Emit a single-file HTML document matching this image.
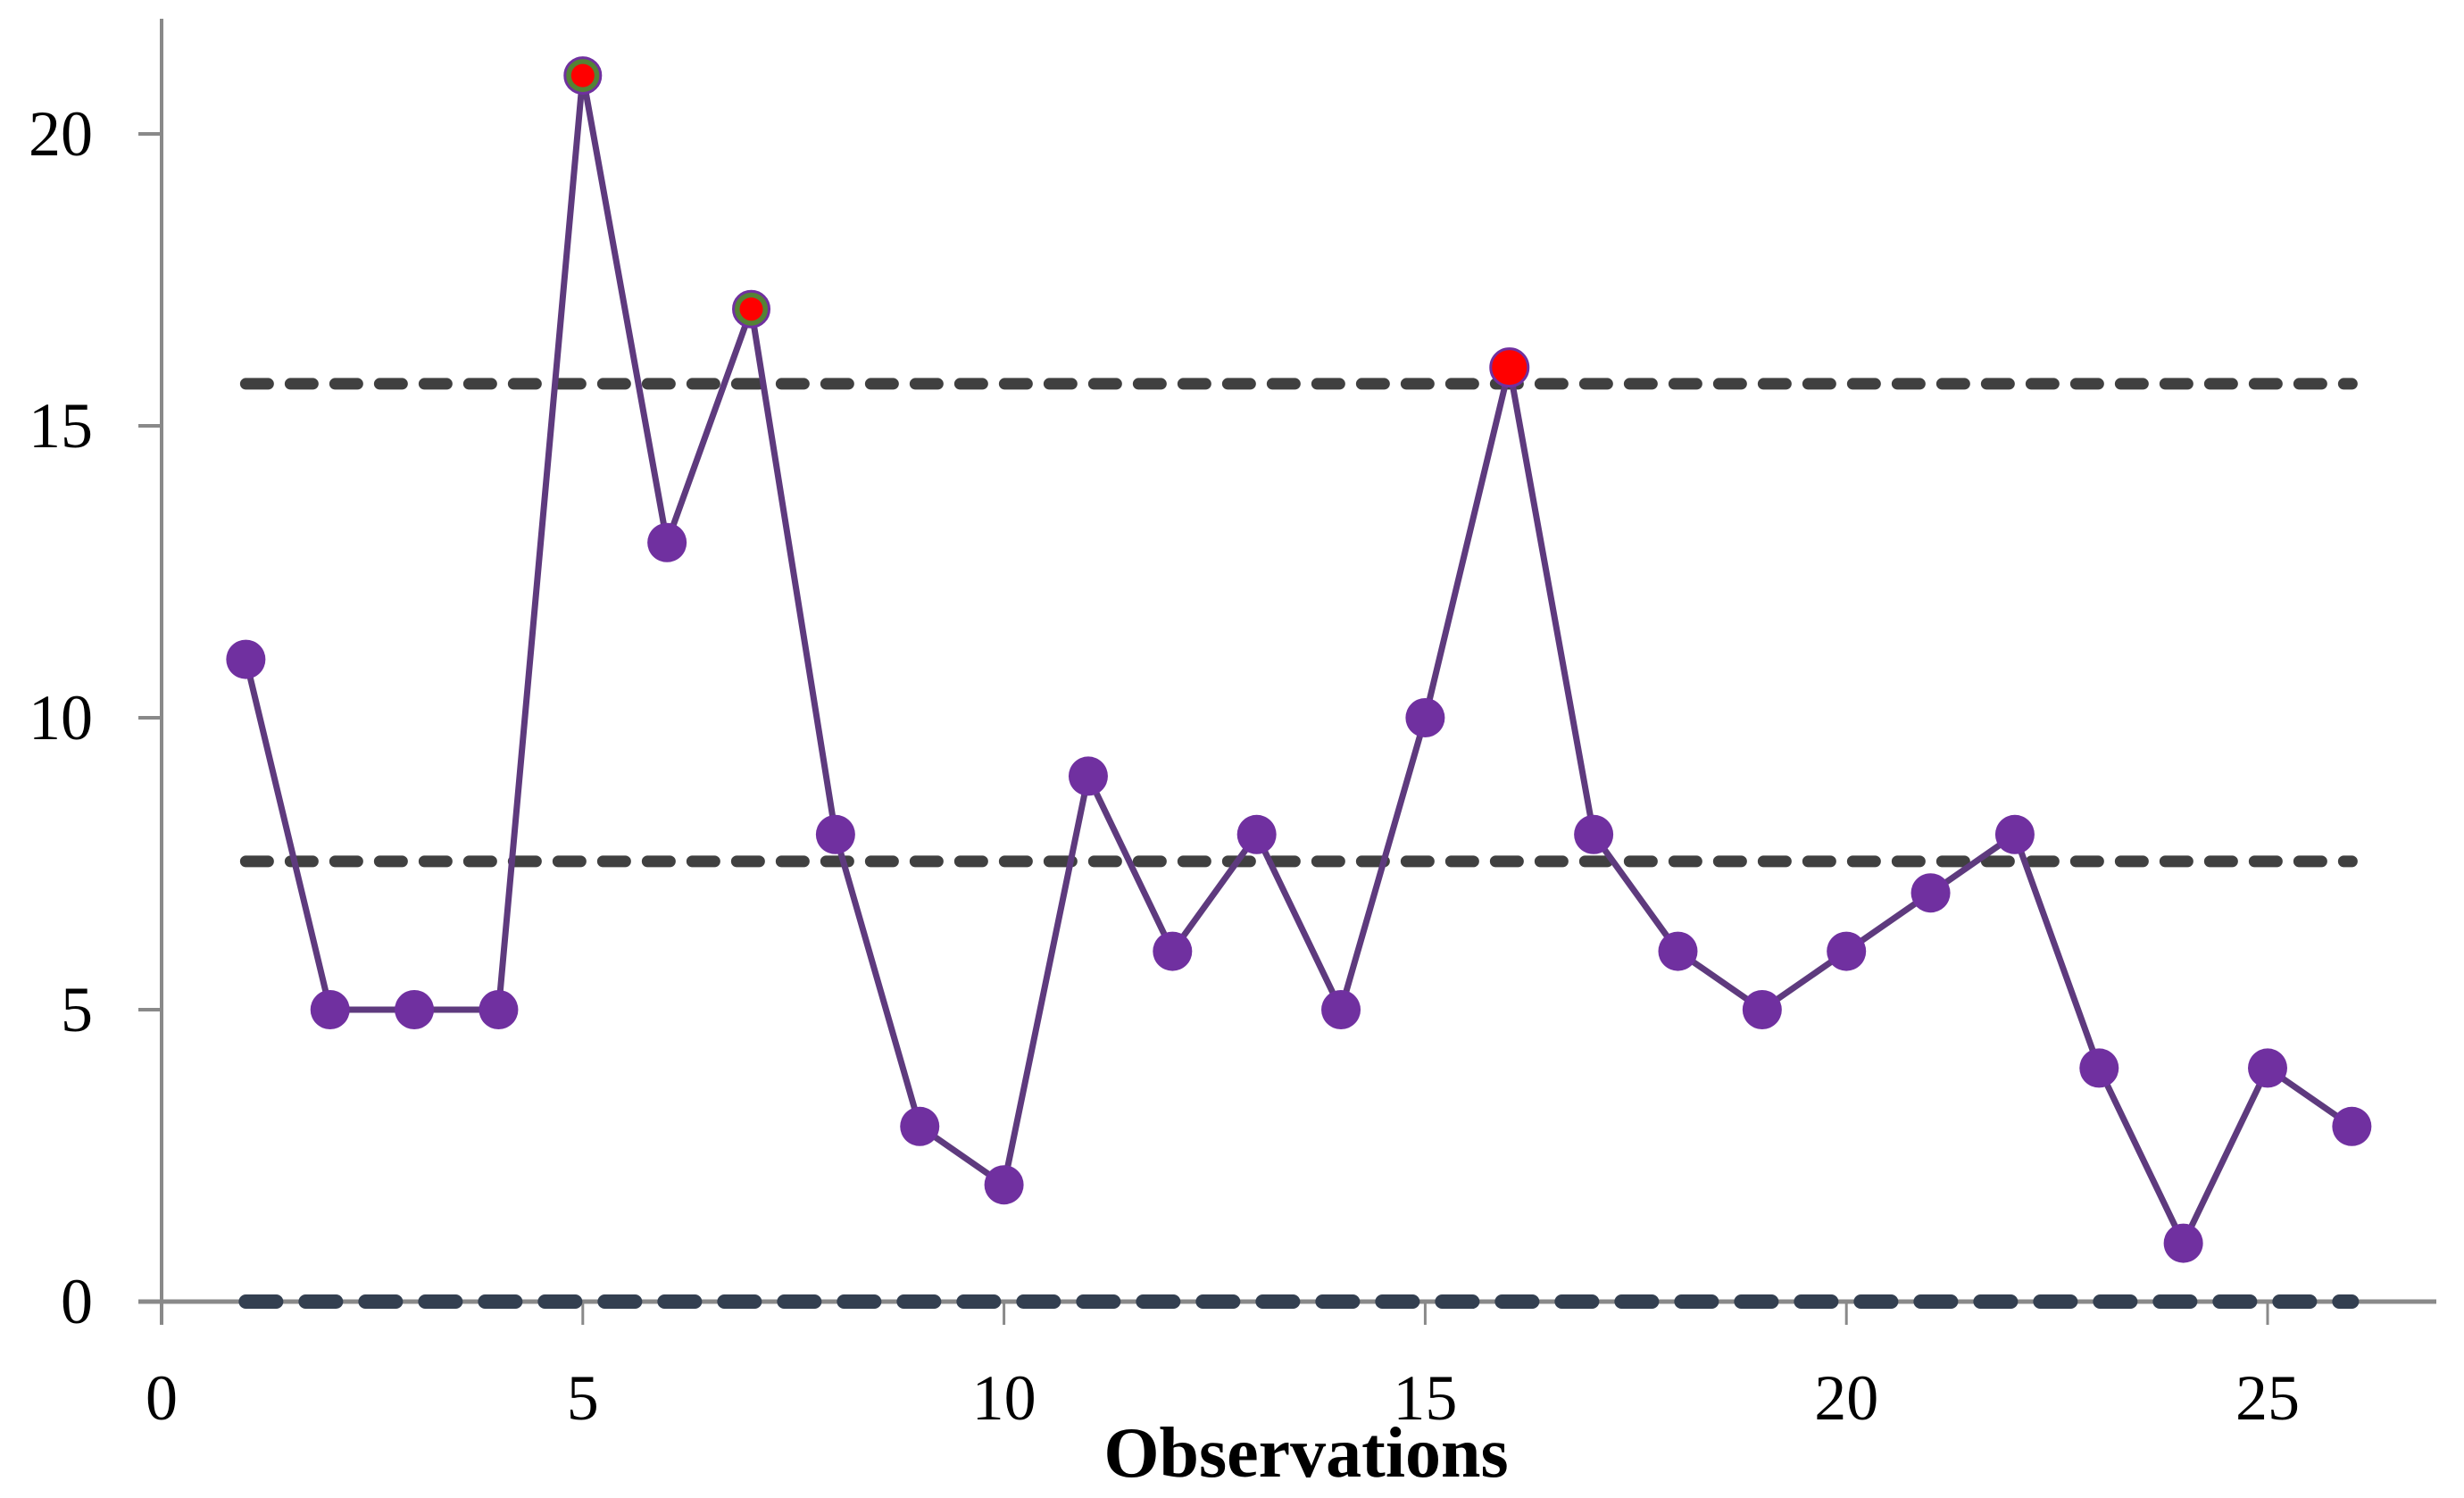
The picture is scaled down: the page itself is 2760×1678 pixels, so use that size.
<!DOCTYPE html>
<html><head><meta charset="utf-8"><style>
html,body{margin:0;padding:0;background:#fff;}
svg{display:block;}
text{font-family:"Liberation Serif",serif;fill:#000;}
</style></head><body>
<svg id="chart" width="2760" height="1678" viewBox="0 0 2760 1678" xmlns="http://www.w3.org/2000/svg">
<g id="axes"></g><g id="limits"></g><g id="series"></g>
</svg>
<script>
const observations = [1,2,3,4,5,6,7,8,9,10,11,12,13,14,15,16,17,18,19,20,21,22,23,24,25,26];
const values = [11,5,5,5,21,13,17,8,3,2,9,6,8,5,10,16,8,6,5,6,7,8,4,1,4,3];
const flagged = [5,7,16];
const limitValues = [15.72, 7.54, 0];
const xTicks = [0,5,10,15,20,25];
const yTicks = [0,5,10,15,20];

const NS='http://www.w3.org/2000/svg';
const X0=181, XU=94.36, Y0=1458, YU=65.4;
const xs=v=>X0+v*XU, ys=v=>Y0-v*YU;
function mk(tag,attrs,parent){const e=document.createElementNS(NS,tag);for(const k in attrs)e.setAttribute(k,attrs[k]);document.getElementById(parent).appendChild(e);return e;}

// axes
let a=mk('line',{x1:X0,x2:X0,y1:21,y2:1484,stroke:'#898989','stroke-width':4},'axes');


a=mk('line',{x1:155,x2:2729,y1:Y0,y2:Y0,stroke:'#898989','stroke-width':5},'axes');


yTicks.forEach(v=>{
  const t=mk('line',{x1:155,x2:X0,y1:ys(v),y2:ys(v),stroke:'#898989','stroke-width':4},'axes');
  
  
  const tx=mk('text',{x:104,y:ys(v)+24,'text-anchor':'end','font-size':72},'axes');
  tx.textContent=v;
  
  
});
xTicks.forEach(v=>{
  const t=mk('line',{x1:xs(v),x2:xs(v),y1:Y0,y2:1484,stroke:'#898989','stroke-width':3},'axes');
  
  
  const tx=mk('text',{x:xs(v),y:1590,'text-anchor':'middle','font-size':72},'axes');
  tx.textContent=v;
  
  
});
const ttl=mk('text',{x:1463,y:1654,'text-anchor':'middle','font-size':80,'font-weight':'bold'},'axes');
ttl.textContent='Observations';



// limit lines
limitValues.forEach((v,i)=>{
  const isL = v===0;
  const l=mk('line',{x1:xs(observations[0])-0,x2:xs(observations[observations.length-1]),y1:ys(v),y2:ys(v),
    stroke:isL?'#333f50':'#404040','stroke-width':isL?16:13,'stroke-linecap':'round',
    'stroke-dasharray':isL?'34 33':'25 25'},'limits');
  
  
});

// series line
const pts=observations.map((o,i)=>xs(o)+','+ys(values[i])).join(' ');
const pl=mk('polyline',{points:pts,fill:'none',stroke:'#5e3a7e','stroke-width':7,'stroke-linejoin':'round'},'series');


observations.forEach((o,i)=>{
  const f=flagged.includes(o);
  let c;
  if(f && o!==16){
    c=mk('circle',{cx:xs(o),cy:ys(values[i]),r:20,fill:'#548235',stroke:'#7030a0','stroke-width':3},'series');
    const inner=mk('circle',{cx:xs(o),cy:ys(values[i]),r:13,fill:'#ff0000'},'series');
    
    
  } else if(f){
    c=mk('circle',{cx:xs(o),cy:ys(values[i]),r:21,fill:'#ff0000',stroke:'#7030a0','stroke-width':3},'series');
  } else {
    c=mk('circle',{cx:xs(o),cy:ys(values[i]),r:22,fill:'#7030a0'},'series');
  }
  
  
});
</script>
</body></html>
